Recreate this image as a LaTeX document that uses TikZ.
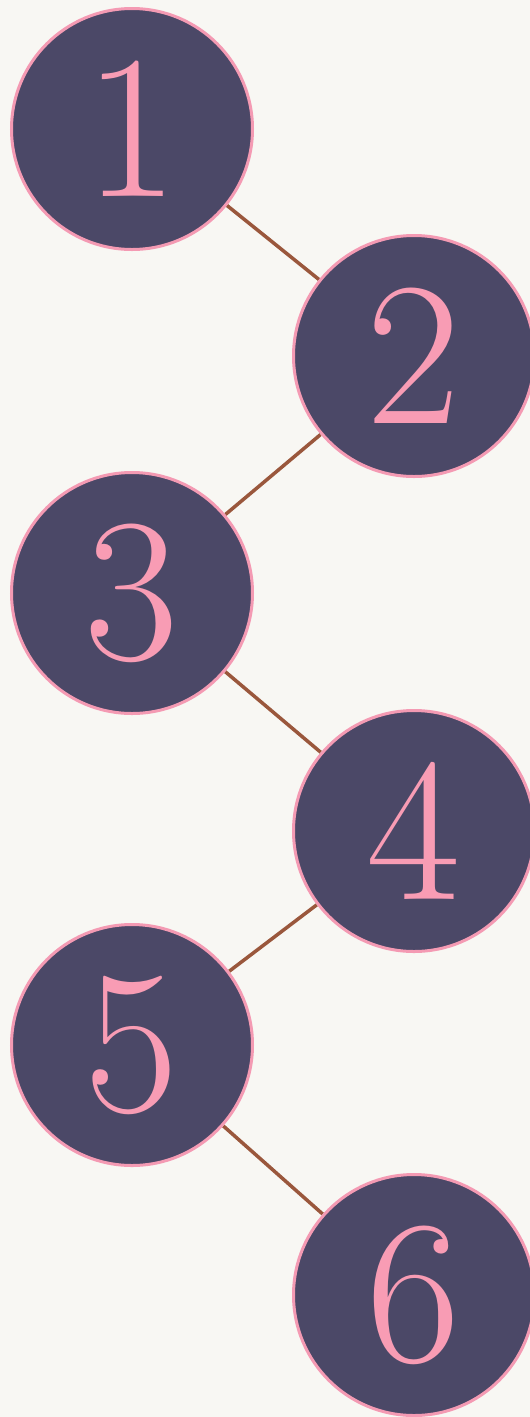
\documentclass[tikz,border=0pt]{standalone}
\usepackage{tikz}
\usetikzlibrary{positioning,backgrounds}
\definecolor{paper}{HTML}{F8F7F3}
\definecolor{disc}{HTML}{4B4867}
\definecolor{rim}{HTML}{F49AB3}
\definecolor{digit}{HTML}{F89CB4}
\definecolor{link}{HTML}{9A573C}

\begin{document}
\begin{tikzpicture}[
  x=1pt,y=-1pt,
  every node/.append style={text=digit},
  stepnode/.style={circle, draw=rim, line width=3pt, fill=disc, minimum size=241pt, inner sep=0pt, font=\fontsize{205}{205}\selectfont},
  linkline/.style={draw=link, line width=3.5pt},
]
% the picture size, discs on the right are cut by the edge
\useasboundingbox (0,0) rectangle (530,1417);
\clip (0,0) rectangle (530,1417);
% the six discs, zigzag
\node[stepnode] (s1) at (132,129) {1};
\node[stepnode] (s2) at (414,356) {2};
\node[stepnode] (s3) at (132,593) {3};
\node[stepnode] (s4) at (414,831) {4};
\node[stepnode] (s5) at (132,1045) {5};
\node[stepnode] (s6) at (414,1295) {6};
% links between them, and the paper
\begin{pgfonlayer}{background}
\fill[paper] (0,0) rectangle (530,1417);
\draw[linkline] (s1) -- (s2);
\draw[linkline] (s2) -- (s3);
\draw[linkline] (s3) -- (s4);
\draw[linkline] (s4) -- (s5);
\draw[linkline] (s5) -- (s6);
\end{pgfonlayer}
\end{tikzpicture}
\end{document}
